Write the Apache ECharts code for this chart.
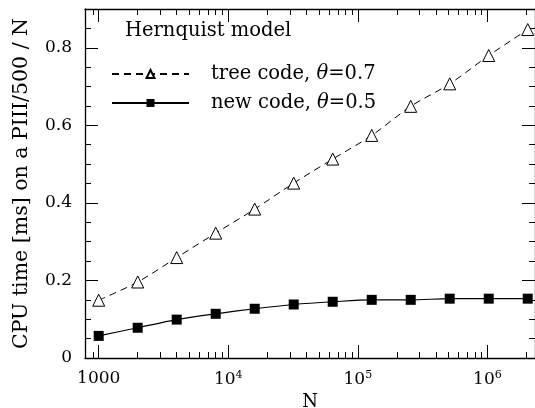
<!DOCTYPE html>
<html>
<head>
<meta charset="utf-8">
<script src="https://cdn.jsdelivr.net/npm/echarts@6/dist/echarts.min.js"></script>
<style>html,body{margin:0;padding:0;background:#fff;}#c{width:535px;height:408px;}</style>
</head>
<body>
<div id="c"></div>
<script>
var N = [1000, 2000, 4000, 8000, 16000, 32000, 64000, 128000, 256000, 512000, 1024000, 2048000];
var treeCode = [0.149, 0.196, 0.259, 0.322, 0.384, 0.451, 0.513, 0.574, 0.649, 0.707, 0.780, 0.847];
var newCode = [0.057, 0.078, 0.099, 0.114, 0.127, 0.138, 0.145, 0.150, 0.150, 0.153, 0.153, 0.153];
var xMajorTicks = [1000, 10000, 100000, 1000000];
var xMinorTicks = [900, 2000, 3000, 4000, 5000, 6000, 7000, 8000, 9000,
  20000, 30000, 40000, 50000, 60000, 70000, 80000, 90000,
  200000, 300000, 400000, 500000, 600000, 700000, 800000, 900000, 2000000];
var yTicks = [0, 0.2, 0.4, 0.6, 0.8];

var FONT = 'DejaVu Serif';
var xMin = 784, xMax = 2330000;
function pairs(xs, ys){ return xs.map(function(x,i){return [x, ys[i]];}); }
function xlab(v){
  if (Math.abs(v-1000) < 1) return '1000';
  var e = Math.round(Math.log10(v));
  return '10{s|' + e + '}';
}
var lineC = '#000';
function xAx(pos, major, labels){
  return {
    type: 'log', position: pos, min: xMin, max: xMax, logBase: 10,
    axisLine: {show: major, lineStyle: {color: lineC, width: 1.3}},
    splitLine: {show: false},
    axisTick: {show: true, inside: true, length: major ? 13 : 6,
      customValues: major ? xMajorTicks : xMinorTicks,
      lineStyle: {color: lineC, width: 1}},
    axisLabel: {show: labels, customValues: xMajorTicks, formatter: xlab,
      color: '#000', fontFamily: FONT, fontSize: 17, margin: 12,
      rich: {s: {fontFamily: FONT, fontSize: 11, verticalAlign: 'top', padding: [0,0,9,0], color:'#000'}}},
    name: (pos === 'bottom' && labels) ? 'N' : '',
    nameLocation: 'middle', nameGap: 33,
    nameTextStyle: {fontFamily: FONT, fontSize: 18, color: '#000'}
  };
}
function yAx(pos, labels){
  return {
    type: 'value', position: pos, min: 0, max: 0.9, interval: 0.2,
    axisLine: {show: true, lineStyle: {color: lineC, width: 1.3}},
    splitLine: {show: false},
    axisTick: {show: true, inside: true, length: 13, lineStyle: {color: lineC, width: 1}},
    minorTick: {show: true, splitNumber: 4, length: 6, lineStyle: {color: lineC, width: 1}},
    axisLabel: {show: labels, color: '#000', fontFamily: FONT, fontSize: 17, margin: 13,
      customValues: yTicks,
      formatter: function(v){ return v === 0 ? '0' : String(v); }},
    name: labels ? 'CPU time [ms] on a PIII/500 / N' : '',
    nameLocation: 'middle', nameGap: 53, nameRotate: 90,
    nameTextStyle: {fontFamily: FONT, fontSize: 20.5, color: '#000'}
  };
}
var chart = echarts.init(document.getElementById('c'), null, {renderer: 'canvas'});
chart.setOption({
  animation: false,
  backgroundColor: '#fff',
  grid: {left: 85, right: 0, top: 9, bottom: 50, containLabel: false, outerBoundsMode: 'none'},
  xAxis: [xAx('bottom', true, true), xAx('bottom', false, false), xAx('top', true, false), xAx('top', false, false)],
  yAxis: [yAx('left', true), yAx('right', false)],
  legend: {
    orient: 'vertical', left: 111, top: 64, padding: 0, itemGap: 9, itemWidth: 77, itemHeight: 10,
    textStyle: {fontFamily: FONT, fontSize: 19.5, color: '#000', padding: [0,0,0,17],
      rich: {i: {fontFamily: FONT, fontStyle: 'italic', fontSize: 19.5, color: '#000'}}},
    formatter: function(n){ return n.replace('θ', '{i|θ}'); },
    data: ['tree code, θ=0.7', 'new code, θ=0.5']
  },
  graphic: [{type: 'text', left: 125, top: 21, style: {text: 'Hernquist model', font: '19.5px "DejaVu Serif"', fill: '#000'}}],
  series: [
    {name: 'tree code, θ=0.7', type: 'line', xAxisIndex: 0, yAxisIndex: 0, data: pairs(N, treeCode),
     smooth: 0.3, symbol: 'triangle', symbolSize: 12,
     lineStyle: {color: '#000', width: 1, type: [7,5]},
     itemStyle: {color: '#fff', borderColor: '#000', borderWidth: 1}},
    {name: 'new code, θ=0.5', type: 'line', xAxisIndex: 0, yAxisIndex: 0, data: pairs(N, newCode),
     smooth: 0.3, symbol: 'rect', symbolSize: 10,
     lineStyle: {color: '#000', width: 1.2},
     itemStyle: {color: '#000', borderColor: '#000', borderWidth: 0}}
  ]
});
</script>
</body>
</html>
